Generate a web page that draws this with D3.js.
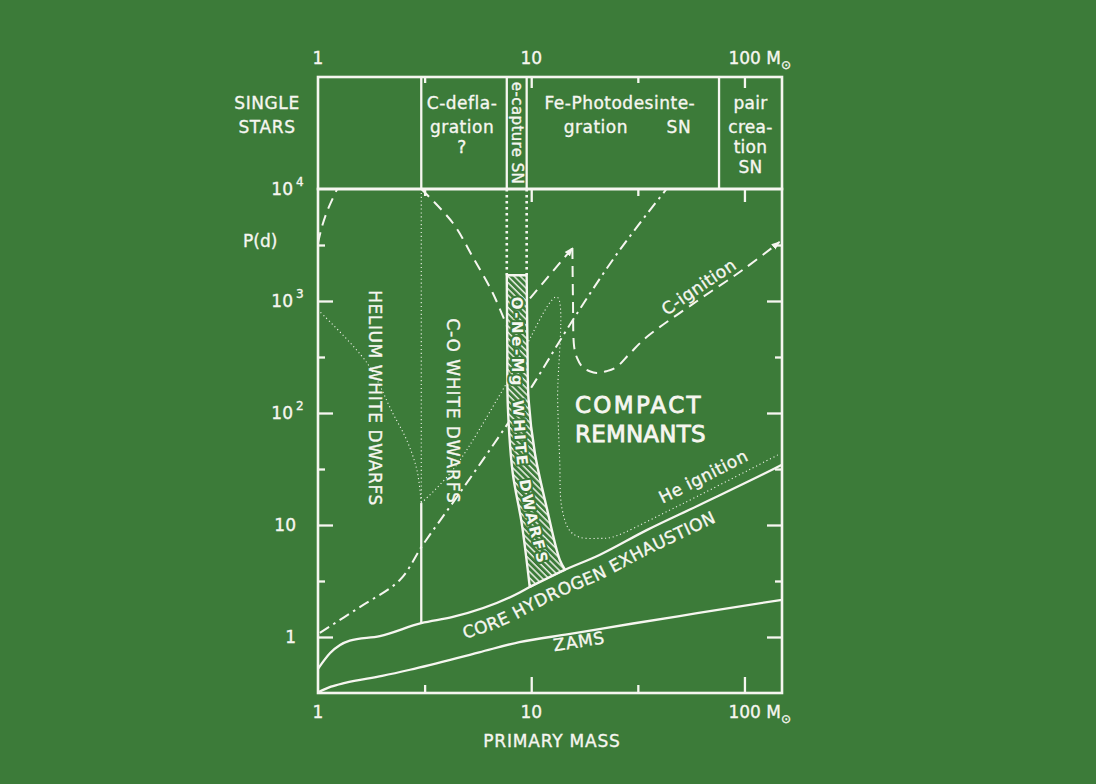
<!DOCTYPE html>
<html>
<head>
<meta charset="utf-8">
<script src="https://cdn.jsdelivr.net/npm/d3@7"></script>
<style>
  html, body { margin: 0; padding: 0; background: #3c7b39; }
  svg { display: block; }
  text { font-family: "DejaVu Sans", "Liberation Sans", sans-serif; fill: #f6f6f0; stroke: #f6f6f0; stroke-width: 0.35px; }
</style>
</head>
<body>
<svg id="chart" width="1096" height="784"></svg>
<script>
// ---- data (primary mass in solar masses, orbital period in days) ----
const massDomain = [1, 150];
const periodDomain = [Math.pow(10, -0.5), 1e4];
const massMajor = [10, 100];
const massMinor = [Math.pow(10, 0.5), Math.pow(10, 1.5)];
const periodMajor = [1, 10, 100, 1000];
const periodMinor = [Math.pow(10, 0.5), Math.pow(10, 1.5), Math.pow(10, 2.5), Math.pow(10, 3.5)];
const massLabels = [1, 10, 100];
const periodLabels = [[1e4, "10", "4"], [1e3, "10", "3"], [100, "10", "2"], [10, "10", ""], [1, "1", ""]];

// single star fate zones (upper box), boundaries in mass
const zoneEdges = [3.05, 7.68, 9.52, 76];

const zams = [[1, 0.32], [1.15, 0.36], [1.34, 0.39], [2, 0.45], [2.7, 0.51], [5.7, 0.73],
  [8.8, 0.9], [15, 1.06], [30, 1.32], [60, 1.63], [150, 2.15]];
const coreH = [[1, 0.52], [1.14, 0.72], [1.41, 0.93], [1.95, 1.02], [3.05, 1.33], [4.29, 1.51],
  [8.83, 2.5], [9.84, 2.8], [13.6, 3.8], [20.9, 5.4], [34.8, 9.0], [61.5, 15.1], [146, 33.6], [150, 34.5]];
const rocheDashDot = [[1.02, 1.09], [1.57, 1.85], [2.42, 3.23], [3.1, 6.63], [4.62, 19.3],
  [7.68, 78], [10.05, 171], [16.0, 720], [26.0, 2850], [43.1, 10000]];
const leftDashed = [[1.0, 3300], [1.04, 4500], [1.11, 6500], [1.23, 10000]];
const coUpper = [[3.05, 10000], [4.29, 4970], [5.32, 2470], [6.6, 1180], [7.68, 600]];
const cIgnRise = [[7.68, 600], [15.6, 2970]];
const cIgnFall = [[15.6, 2970], [15.7, 1000], [15.9, 390], [16.4, 310], [17.4, 257], [18.8, 236],
  [20.3, 228], [22.5, 236], [25.1, 257], [29, 340], [34.8, 477], [60, 1000], [98, 1890], [146, 3360]];
const heIgn = [[3.05, 15.7], [4.29, 31], [7.68, 185], [13.2, 1086], [13.3, 131], [13.6, 38],
  [13.9, 14.5], [15.1, 9.0], [16.8, 7.8], [20.9, 7.6], [24, 7.8], [43, 13.1], [146, 43]];
const heliumDotted = [[1, 831], [1.7, 279], [2.24, 100], [2.61, 57], [2.91, 31], [3.05, 15.7]];
const coSplitDotted = [[3.05, 10000], [3.05, 15.7]];
const coSplitSolid = [[3.05, 15.7], [3.05, 1.33]];
const eCapLeft = [[7.68, 10000], [7.68, 1700]];
const eCapRight = [[9.52, 10000], [9.52, 1700]];
const stripLeft = [[7.68, 1700], [7.72, 400], [7.77, 113], [8.19, 29], [9.02, 10.4], [9.84, 2.8]];
const stripRight = [[9.52, 1700], [9.6, 400], [9.72, 131], [10.4, 44], [11.8, 14.5], [13.6, 4.9], [14.4, 4.0]];
const stripMid = [[8.55, 1500], [8.6, 400], [8.65, 131], [9.03, 38], [9.84, 13.6], [10.96, 6.0], [11.7, 3.4]];

// ---- setup ----
const W = 1096, H = 784;
const green = "#3c7b39", ink = "#f6f6f0";
const svg = d3.select("#chart");
svg.append("rect").attr("width", W).attr("height", H).attr("fill", green);

const x = d3.scaleLog().domain(massDomain).range([318, 782]);
const y = d3.scaleLog().domain(periodDomain).range([693, 189]);
const boxTop = 77;

const defs = svg.append("defs");
const hatch = defs.append("pattern").attr("id", "hatch")
  .attr("patternUnits", "userSpaceOnUse").attr("width", 4.4).attr("height", 4.4)
  .attr("patternTransform", "rotate(-45)");
hatch.append("rect").attr("width", 4.4).attr("height", 4.4).attr("fill", green);
hatch.append("line").attr("x1", 1).attr("y1", 0).attr("x2", 1).attr("y2", 4.4)
  .attr("stroke", ink).attr("stroke-width", 1.4);
defs.append("marker").attr("id", "arrow").attr("viewBox", "0 -4 8 8")
  .attr("refX", 7).attr("refY", 0).attr("markerWidth", 9).attr("markerHeight", 9)
  .attr("markerUnits", "userSpaceOnUse").attr("orient", "auto")
  .append("path").attr("d", "M0,-3L8,0L0,3Z").attr("fill", ink);

const line = (dy = 0, curve = d3.curveLinear) => d3.line()
  .x(d => x(d[0])).y(d => y(d[1]) + dy).curve(curve);

const plot = svg.append("g");

// line styles
const solid = { w: 2.3 };
const dashed = { w: 2, dash: "11,7" };
const dashDot = { w: 2, dash: "11,5,2.5,5" };
const dotted = { w: 1.1, dash: "1.1,2.8" };
const heavyDots = { w: 2.6, dash: "2.6,3.4" };

function drawLine(data, style, curve) {
  return plot.append("path")
    .attr("d", line(0, curve)(data))
    .attr("fill", "none")
    .attr("stroke", ink)
    .attr("stroke-width", style.w)
    .attr("stroke-dasharray", style.dash || null);
}

// ---- curves ----
const smooth = d3.curveCatmullRom.alpha(0.5);
drawLine(zams, solid, d3.curveMonotoneX);
drawLine(coreH, solid, d3.curveMonotoneX);
drawLine(rocheDashDot, dashDot, smooth);
drawLine(leftDashed, dashed, smooth);
drawLine(coUpper, dashed, smooth);
drawLine(cIgnRise, dashed).attr("marker-end", "url(#arrow)");
drawLine(cIgnFall, dashed, smooth).attr("marker-end", "url(#arrow)");
drawLine(heIgn, dotted, smooth);
drawLine(heliumDotted, dotted, smooth);
drawLine(coSplitDotted, dotted);
drawLine(coSplitSolid, solid);
drawLine(eCapLeft, heavyDots);
drawLine(eCapRight, heavyDots);

// ---- O-Ne-Mg white dwarf strip ----
const leftD = line(0, smooth)(stripLeft);
const rightD = line(0, smooth)(stripRight.slice().reverse()).replace(/^M/, "L");
plot.append("path")
  .attr("d", leftD + rightD + "Z")
  .attr("fill", "url(#hatch)")
  .attr("stroke", ink)
  .attr("stroke-width", 2.4)
  .attr("stroke-linejoin", "round");

function lengthAt(node, target, key) {
  let lo = 0, hi = node.getTotalLength();
  for (let i = 0; i < 40; i++) {
    const mid = (lo + hi) / 2;
    if (node.getPointAtLength(mid)[key] < target) lo = mid; else hi = mid;
  }
  return lo;
}

// words placed one by one along a path, centred on a given x or y
function wordsOnPath(id, data, dy, curve, words, center, key, size, spacing, halo, gapFactor) {
  const p = defs.append("path").attr("id", id).attr("d", line(dy, curve)(data));
  const mid = lengthAt(p.node(), center, key);
  const items = words.map(w => {
    const t = svg.append("text").attr("font-size", size).attr("letter-spacing", spacing);
    if (halo) {
      t.attr("dominant-baseline", "central").attr("font-weight", "bold")
        .style("stroke", green).style("stroke-width", "4px")
        .style("paint-order", "stroke").style("stroke-linejoin", "round");
    }
    const tp = t.append("textPath").attr("href", "#" + id).text(w);
    return { tp, len: t.node().getComputedTextLength() };
  });
  const gap = size * (gapFactor || 0.35);
  const total = d3.sum(items, d => d.len) + gap * (items.length - 1);
  let s = mid - total / 2;
  items.forEach(d => { d.tp.attr("startOffset", s); s += d.len + gap; });
}

wordsOnPath("stripPath", stripMid, 0, smooth, ["O-Ne-Mg", "WHITE", "DWARFS"], 432, "y", 15, 2.5, true, 0.8);
wordsOnPath("corePath", coreH, 25, d3.curveMonotoneX, ["CORE", "HYDROGEN", "EXHAUSTION"], 592, "x", 17, 0.4, false);
wordsOnPath("zamsPath", zams, 15, d3.curveMonotoneX, ["ZAMS"], 580, "x", 17, 0.8, false);
wordsOnPath("cPath", cIgnFall.slice(9), -6, smooth, ["C-ignition"], 702, "x", 17, 0.4, false);
wordsOnPath("hePath", heIgn.slice(8), -10, smooth, ["He", "ignition"], 706, "x", 17, 0.4, false);

// ---- frames and ticks ----
const [x0, x1] = x.range();
const [yb, yt] = y.range();
plot.append("rect").attr("x", x0).attr("y", yt).attr("width", x1 - x0).attr("height", yb - yt)
  .attr("fill", "none").attr("stroke", ink).attr("stroke-width", 2.6);
plot.append("rect").attr("x", x0).attr("y", boxTop).attr("width", x1 - x0).attr("height", yt - boxTop)
  .attr("fill", "none").attr("stroke", ink).attr("stroke-width", 2.6);
zoneEdges.forEach(m => {
  plot.append("line").attr("x1", x(m)).attr("x2", x(m)).attr("y1", boxTop).attr("y2", yt)
    .attr("stroke", ink).attr("stroke-width", 2.3);
});

function ticks(axisFn, scale, values, size, transform) {
  plot.append("g").attr("transform", transform)
    .call(axisFn(scale).tickValues(values).tickSize(size).tickFormat(""))
    .call(g => g.select(".domain").remove())
    .call(g => g.selectAll("text").remove())
    .selectAll("line").attr("stroke", ink).attr("stroke-width", 2.3);
}
ticks(d3.axisTop, x, massMajor, 16, `translate(0,${yb})`);
ticks(d3.axisTop, x, massMinor, 8, `translate(0,${yb})`);
ticks(d3.axisBottom, x, massMajor, 13, `translate(0,${yt})`);
ticks(d3.axisBottom, x, massMinor, 7, `translate(0,${yt})`);
ticks(d3.axisBottom, x, massMajor, 11, `translate(0,${boxTop})`);
ticks(d3.axisBottom, x, massMinor, 6, `translate(0,${boxTop})`);
ticks(d3.axisRight, y, periodMajor, 15, `translate(${x0},0)`);
ticks(d3.axisRight, y, periodMinor, 7, `translate(${x0},0)`);
ticks(d3.axisLeft, y, periodMajor, 15, `translate(${x1},0)`);
ticks(d3.axisLeft, y, periodMinor, 7, `translate(${x1},0)`);

// ---- axis labels ----
function massLabel(v, base) {
  const t = svg.append("text").attr("font-size", 17).attr("y", base);
  if (v === 100) {
    t.attr("x", x(v) - 16);
    t.append("tspan").text("100 M");
    t.append("tspan").attr("font-size", 12).attr("dy", 5).text("\u2299");
  } else {
    t.attr("x", x(v)).attr("text-anchor", "middle").text(v);
  }
}
massLabels.forEach(v => { massLabel(v, 64); massLabel(v, yb + 25); });

periodLabels.forEach(([v, base, sup]) => {
  svg.append("text").attr("font-size", 17).attr("text-anchor", "end")
    .attr("x", sup ? 293 : 296).attr("y", y(v) + 6).text(base);
  if (sup) {
    svg.append("text").attr("font-size", 12).attr("x", 296).attr("y", y(v) - 3).text(sup);
  }
});

svg.append("text").attr("font-size", 17).attr("x", 243).attr("y", 247).text("P(d)");
svg.append("text").attr("font-size", 17).attr("letter-spacing", 0.8)
  .attr("x", (x0 + x1) / 2 + 2).attr("y", yb + 54).attr("text-anchor", "middle").text("PRIMARY MASS");

// ---- upper box labels ----
function block(cx, lines, top, step, size, spacing) {
  const t = svg.append("text").attr("font-size", size).attr("text-anchor", "middle")
    .attr("letter-spacing", spacing || 0);
  lines.forEach((s, i) => {
    t.append("tspan").attr("x", cx).attr("y", top + i * step[i]).text(s);
  });
}
const zoneMid = (a, b) => (x(a) + x(b)) / 2;
const feMid = zoneMid(zoneEdges[2], zoneEdges[3]);
block(267, ["SINGLE", "STARS"], 109, [0, 24], 17, 0.6);
block(zoneMid(zoneEdges[0], zoneEdges[1]) - 2, ["C-defla-", "gration", "?"], 109, [0, 24, 22], 17, 0.5);
block(feMid - 3, ["Fe-Photodesinte-"], 109, [0], 17, 0.5);
svg.append("text").attr("font-size", 17).attr("letter-spacing", 0.5).attr("text-anchor", "middle")
  .attr("x", feMid - 27).attr("y", 133).text("gration");
svg.append("text").attr("font-size", 17).attr("letter-spacing", 0.5).attr("text-anchor", "middle")
  .attr("x", feMid + 56).attr("y", 133).text("SN");
block(zoneMid(zoneEdges[3], massDomain[1]), ["pair", "crea-", "tion", "SN"], 109, [0, 24, 22, 21.3], 17, 0.3);

svg.append("text").attr("font-size", 15).attr("letter-spacing", 0.4)
  .attr("text-anchor", "middle").attr("dominant-baseline", "central")
  .attr("transform", `translate(${zoneMid(zoneEdges[1], zoneEdges[2])},${(boxTop + yt) / 2}) rotate(90)`)
  .text("e-capture SN");

// ---- region labels ----
function vLabel(cx, cy, s, spacing) {
  svg.append("text").attr("font-size", 17).attr("letter-spacing", spacing)
    .attr("text-anchor", "middle").attr("dominant-baseline", "central")
    .attr("transform", `translate(${cx},${cy}) rotate(90)`).text(s);
}
vLabel(375, 398, "HELIUM WHITE DWARFS", 0.6);
vLabel(453, 411, "C-O WHITE DWARFS", 0.9);

svg.append("text").attr("font-size", 23).attr("letter-spacing", 2.3)
  .style("stroke-width", "0.8px")
  .attr("x", 575).attr("y", 413).text("COMPACT");
svg.append("text").attr("font-size", 23).attr("letter-spacing", 0.2)
  .style("stroke-width", "0.8px")
  .attr("x", 575).attr("y", 442).text("REMNANTS");
</script>
</body>
</html>
